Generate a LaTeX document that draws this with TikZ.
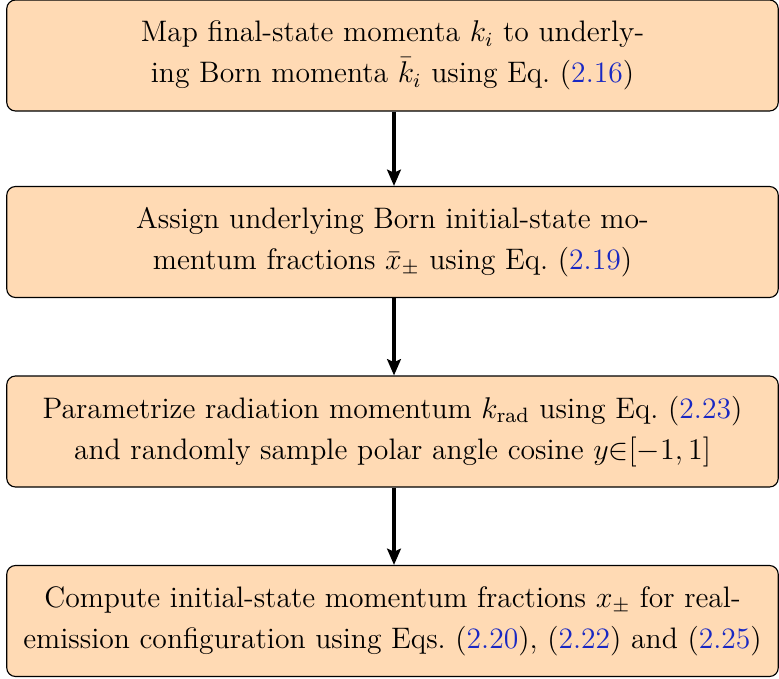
\documentclass[tikz,border=0pt]{standalone}
\usepackage{amsmath}
\usetikzlibrary{arrows.meta}
\definecolor{boxfill}{RGB}{255,218,180}
\definecolor{linkblue}{RGB}{25,40,195}
\newcommand{\eqlink}[1]{(\textcolor{linkblue}{#1})}
\tikzset{
  stepbox/.style={draw=black, line width=0.45pt, fill=boxfill, rounded corners=3.5pt,
    minimum width=308.6pt, minimum height=44.4pt, align=center, inner sep=0pt,
    font=\fontsize{11.85}{16.3}\selectfont},
  flow/.style={line width=1.3pt, -{Stealth[length=6.5pt,width=5.5pt,inset=1.2pt]}}
}
\begin{document}
\begin{tikzpicture}[x=0.4pt,y=-0.4pt]
\useasboundingbox (0,0) rectangle (779,679);
\node[stepbox] (b1) at (392.5,55.5) {Map final-state momenta $k_i$ to underly-\\ing Born momenta $\bar{k}_i$ using Eq.~\eqlink{2.16}};
\node[stepbox] (b2) at (392.5,242) {Assign underlying Born initial-state mo-\\mentum fractions $\bar{x}_\pm$ using Eq.~\eqlink{2.19}};
\node[stepbox] (b3) at (392.5,431.5) {Parametrize radiation momentum $k_{\text{rad}}$ using Eq.~\eqlink{2.23}\\and randomly sample polar angle cosine $y{\in}[-1,1]$};
\node[stepbox] (b4) at (392.5,621) {Compute initial-state momentum fractions $x_\pm$ for real-\\emission configuration using Eqs.~\eqlink{2.20}, \eqlink{2.22} and \eqlink{2.25}};
\draw[flow] ([xshift=0.6pt]b1.south) -- ([xshift=0.6pt]b2.north);
\draw[flow] ([xshift=0.6pt]b2.south) -- ([xshift=0.6pt]b3.north);
\draw[flow] ([xshift=0.6pt]b3.south) -- ([xshift=0.6pt]b4.north);
\end{tikzpicture}
\end{document}
